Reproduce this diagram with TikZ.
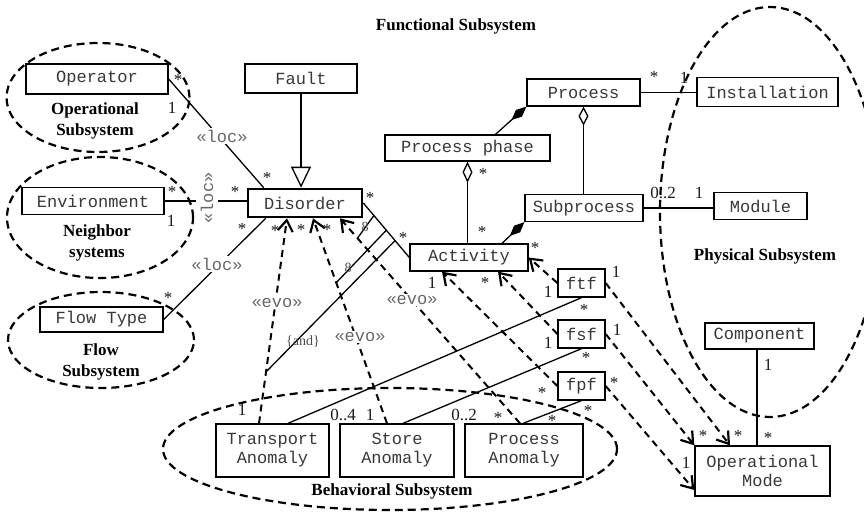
\documentclass[tikz,border=0pt]{standalone}
\usepackage{fontspec}
\setmainfont{Liberation Serif}
\newfontfamily\monof{Liberation Mono}
\usetikzlibrary{arrows.meta,calc}

\begin{document}
\begin{tikzpicture}[x=1pt,y=-1pt,
  cls/.style={draw=black,line width=1.3pt,fill=white,font=\monof\fontsize{17}{19}\selectfont,
    text=black!78,inner sep=0pt,align=center},
  thickcls/.style={cls,line width=2.6pt},
  stereo/.style={font=\monof\fontsize{17}{19}\selectfont,text=black!60,fill=white,inner sep=1.5pt},
  mult/.style={font=\fontsize{17}{17}\selectfont,inner sep=0pt,text=black!90},
  grouplabel/.style={font=\bfseries\fontsize{17}{21}\selectfont,align=center},
  subsys/.style={dash pattern=on 8pt off 5pt,line width=2.2pt},
  assoc/.style={line width=1.3pt},
  dep/.style={dash pattern=on 7pt off 5pt,line width=2pt,
    -{Straight Barb[length=11pt,width=15pt,line width=2.2pt]}},
  constraint/.style={font=\fontsize{14}{14}\selectfont,text=black!70,inner sep=1pt}
]
\useasboundingbox (0,0) rectangle (864,511);
\clip (0,0) rectangle (864,511);

% subsystem outlines
\draw[subsys] (98,97.5) ellipse [x radius=91.5pt, y radius=54.5pt];
\draw[subsys] (100,217.5) ellipse [x radius=93pt, y radius=60.5pt];
\draw[subsys] (101,340) ellipse [x radius=93pt, y radius=48pt];
\draw[subsys] (770,212) ellipse [x radius=110pt, y radius=205pt];
\draw[subsys] (390,449) ellipse [x radius=227pt, y radius=61pt];

% subsystem names
\node[grouplabel] (funcsys) at (456,26) {Functional Subsystem};
\node[grouplabel] (opsys) at (95,120.5) {Operational\\Subsystem};
\node[grouplabel] (neighsys) at (97,243) {Neighbor\\systems};
\node[grouplabel] (flowsys) at (101,362) {Flow\\Subsystem};
\node[grouplabel] (physsys) at (765,256) {Physical Subsystem};
\node[grouplabel] (behavsys) at (392,491) {Behavioral Subsystem};

% classes
\node[cls,minimum width=142pt,minimum height=30pt] (operator) at (97,79) {Operator};
\node[thickcls,minimum width=112pt,minimum height=29pt] (fault) at (301,78.5) {Fault};
\node[cls,minimum width=142pt,minimum height=27pt] (environment) at (93,201) {Environment};
\node[thickcls,minimum width=114pt,minimum height=28pt] (disorder) at (305,203) {Disorder};
\node[cls,minimum width=123pt,minimum height=25pt] (flowtype) at (101.5,319.5) {Flow Type};
\node[cls,minimum width=113pt,minimum height=27pt] (process) at (583.5,92.5) {Process};
\node[cls,minimum width=141pt,minimum height=29pt] (installation) at (767.5,92) {Installation};
\node[cls,minimum width=165pt,minimum height=26pt] (processphase) at (467.5,148) {Process phase};
\node[cls,minimum width=118pt,minimum height=27pt] (subprocess) at (584,208) {Subprocess};
\node[cls,minimum width=93pt,minimum height=27pt] (module) at (760.5,206) {Module};
\node[cls,minimum width=118pt,minimum height=27pt] (activity) at (469,257.5) {Activity};
\node[cls,minimum width=47pt,minimum height=28pt] (ftf) at (581.5,283) {ftf};
\node[cls,minimum width=47pt,minimum height=28pt] (fsf) at (581.5,334) {fsf};
\node[cls,minimum width=47pt,minimum height=28pt] (fpf) at (581.5,386) {fpf};
\node[cls,minimum width=109pt,minimum height=26pt] (component) at (759.5,336) {Component};
\node[cls,minimum width=135pt,minimum height=50pt] (opmode) at (762.5,471) {Operational\\Mode};
\node[cls,minimum width=113pt,minimum height=53pt] (transport) at (272.5,450.5) {Transport\\Anomaly};
\node[cls,minimum width=114pt,minimum height=53pt] (store) at (397,450.5) {Store\\Anomaly};
\node[cls,minimum width=118pt,minimum height=53pt] (procanom) at (524,450.5) {Process\\Anomaly};

% end points of the evolution dependencies
\coordinate (evoTs) at ([xshift=-13.5pt]transport.north);
\coordinate (evoTe) at ([xshift=-18pt]disorder.south);
\coordinate (evoSs) at ([xshift=-10pt]store.north);
\coordinate (evoSe) at ([xshift=8pt]disorder.south);
\coordinate (evoPs) at ([xshift=-4pt]procanom.north);
\coordinate (evoPe) at ([xshift=35pt]disorder.south);

% generalization
\draw[assoc,-{Triangle[open,length=21pt,width=20pt,line width=1.3pt]}]
  (fault.south) -- (fault.south |- disorder.north);

% location associations
\draw[assoc] (operator.east) -- ([xshift=17pt]disorder.north west);
\draw[assoc] (environment.east) -- (environment.east -| disorder.west);
\draw[assoc] (flowtype.east) -- ([xshift=19pt]disorder.south west);

% disorder / activity association and its {and} constraint lines
\draw[assoc] (disorder.east) -- (activity.west);
\draw[assoc] ($(disorder.east)!0.23!(activity.west)$) -- ($(evoPs)!0.903!(evoPe)$);
\draw[assoc] ($(disorder.east)!0.5!(activity.west)$) -- ($(evoSs)!0.686!(evoSe)$);
\draw[assoc] ($(disorder.east)!0.69!(activity.west)$) -- ($(evoTs)!0.251!(evoTe)$);

% process structure
\draw[assoc,{Diamond[length=20pt,width=9pt]}-] (process.south west) -- ([xshift=28pt]processphase.north);
\draw[assoc,{Diamond[open,length=19pt,width=10pt,line width=1.3pt]}-] (process.south) -- (process.south |- subprocess.north);
\draw[assoc,{Diamond[open,length=21pt,width=10pt,line width=1.3pt]}-] (processphase.south) -- (processphase.south |- activity.north);
\draw[assoc,{Diamond[length=20pt,width=9pt]}-] (subprocess.south west) -- ([xshift=33pt]activity.north);
\draw[assoc] (process.east) -- (process.east -| installation.west);
\draw[assoc] (subprocess.east) -- (subprocess.east -| module.west);
\draw[assoc] ([xshift=-2.5pt]component.south) -- ([xshift=-2.5pt]component.south |- opmode.north);

% anomaly / flow function associations
\draw[assoc] ([xshift=15.5pt]transport.north) -- (ftf.south);
\draw[assoc] ([xshift=6pt]store.north) -- (fsf.south);
\draw[assoc] ([xshift=-1pt]procanom.north) -- (fpf.south);

% evolution dependencies
\draw[dep] (evoTs) -- (evoTe);
\draw[dep] (evoSs) -- (evoSe);
\draw[dep] (evoPs) -- (evoPe);

% flow function dependencies
\draw[dep] (ftf.west) -- (activity.east);
\draw[dep] (fsf.west) -- ([xshift=29pt]activity.south);
\draw[dep] (fpf.west) -- ([xshift=-27pt]activity.south);
\draw[dep] (ftf.east) -- ([xshift=-32.5pt]opmode.north);
\draw[dep] (fsf.east) -- (opmode.north west);
\draw[dep] (fpf.east) -- ([yshift=-19pt]opmode.west);

% stereotypes
\node[stereo] (locA) at (222,136) {«loc»};
\node[stereo,rotate=90,inner xsep=1pt,inner ysep=5pt] (locB) at (207,198) {«loc»};
\node[stereo] (locC) at (217,264) {«loc»};
\node[stereo] (evoA) at (277,303) {«evo»};
\node[stereo] (evoB) at (360,337) {«evo»};
\node[stereo] (evoC) at (412,300) {«evo»};

% constraints
\node[constraint] (andA) at (303,342) {\{and\}};
\node[constraint] (andB) at (365,227) {8};
\node[constraint] (andC) at (348,268) {8};

% multiplicities
\node[mult] (m1) at (178,80) {*};
\node[mult] (m2) at (172,108) {1};
\node[mult] (m3) at (267,178) {*};
\node[mult] (m4) at (172,192) {*};
\node[mult] (m5) at (171,221) {1};
\node[mult] (m6) at (235,192) {*};
\node[mult] (m7) at (168,298) {*};
\node[mult] (m8) at (242,229) {*};
\node[mult] (m9) at (275,231) {*};
\node[mult] (m10) at (301,230) {*};
\node[mult] (m11) at (327,230) {*};
\node[mult] (m12) at (370,198) {*};
\node[mult] (m13) at (403,238) {*};
\node[mult] (m14) at (483,174) {*};
\node[mult] (m15) at (482,232) {*};
\node[mult] (m16) at (535,248) {*};
\node[mult] (m17) at (654,77) {*};
\node[mult] (m18) at (684,78) {1};
\node[mult] (m19) at (663,193) {0..2};
\node[mult] (m20) at (699,193) {1};
\node[mult] (m21) at (616,272) {1};
\node[mult] (m22) at (548,292) {1};
\node[mult] (m23) at (584,310) {*};
\node[mult] (m24) at (617,330) {1};
\node[mult] (m25) at (548,343) {1};
\node[mult] (m26) at (586,358) {*};
\node[mult] (m27) at (614,383) {*};
\node[mult] (m28) at (542,393) {*};
\node[mult] (m29) at (588,411) {*};
\node[mult] (m30) at (432,283) {1};
\node[mult] (m31) at (485,283) {*};
\node[mult] (m32) at (242,410) {1};
\node[mult] (m33) at (343,415) {0..4};
\node[mult] (m34) at (370,415) {1};
\node[mult] (m35) at (464,415) {0..2};
\node[mult] (m36) at (498,418) {*};
\node[mult] (m37) at (552,421) {*};
\node[mult] (m38) at (703,436) {*};
\node[mult] (m39) at (738,436) {*};
\node[mult] (m40) at (768,438) {*};
\node[mult] (m41) at (686,463) {1};
\node[mult] (m42) at (768,365) {1};
\end{tikzpicture}
\end{document}
